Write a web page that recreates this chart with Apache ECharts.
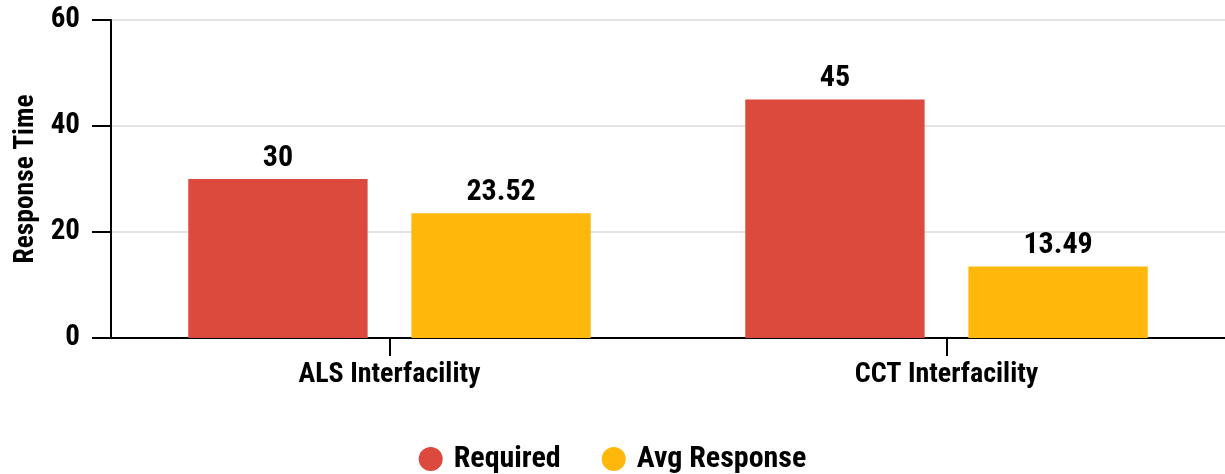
<!DOCTYPE html>
<html>
<head>
<meta charset="utf-8">
<script src="https://cdn.jsdelivr.net/npm/echarts@6/dist/echarts.min.js"></script>
<style>
html,body{margin:0;padding:0;background:#fff;}
#chart{width:1225px;height:474px;}
</style>
</head>
<body>
<div id="chart"></div>
<script>
const categories = ['ALS Interfacility', 'CCT Interfacility'];
const seriesNames = ['Required', 'Avg Response'];
const requiredValues = [30, 45];
const avgResponseValues = [23.52, 13.49];
const yTicks = [0, 20, 40, 60];

const FONT = '"Roboto Condensed", "Liberation Sans Narrow", "Arial Narrow", Roboto, sans-serif';
const colors = ['#DB4A3D', '#FDB80B'];

const chart = echarts.init(document.getElementById('chart'));
const labelStyle = {
  show: true, position: 'top', distance: 6,
  fontFamily: FONT, fontWeight: 'bold', fontSize: 30, color: '#000',
  formatter: p => String(p.value)
};
chart.setOption({
  animation: false,
  textStyle: { fontFamily: FONT },
  grid: { left: 111, right: -8, top: 20, bottom: 136, containLabel: false },
  legend: {
    bottom: -5, left: 'center',
    icon: 'circle', itemWidth: 24, itemHeight: 24, itemGap: 41,
    textStyle: { fontFamily: FONT, fontWeight: 'bold', fontSize: 30, color: '#000', padding: [0, 0, 0, 6] },
    data: seriesNames
  },
  xAxis: {
    type: 'category', data: categories,
    axisLine: { lineStyle: { color: '#000', width: 2 } },
    axisTick: { show: true, alignWithLabel: true, length: 18, lineStyle: { color: '#000', width: 2 } },
    axisLabel: { margin: 23, fontFamily: FONT, fontWeight: 'bold', fontSize: 28, color: '#000' }
  },
  yAxis: {
    type: 'value', min: yTicks[0], max: yTicks[yTicks.length - 1], interval: yTicks[1] - yTicks[0],
    name: 'Response Time', nameLocation: 'middle', nameGap: 71, nameRotate: 90,
    nameTextStyle: { fontFamily: FONT, fontWeight: 'bold', fontSize: 27.5, color: '#000' },
    axisLine: { show: true, lineStyle: { color: '#000', width: 2 } },
    axisTick: { show: true, length: 19, lineStyle: { color: '#000', width: 2 } },
    axisLabel: { margin: 31, fontFamily: FONT, fontWeight: 'bold', fontSize: 29, color: '#000' },
    splitLine: { show: true, lineStyle: { color: '#E4E4E4', width: 2 } }
  },
  series: [
    { name: seriesNames[0], type: 'bar', data: requiredValues, itemStyle: { color: colors[0] },
      barWidth: '32.2%', barGap: '24.4%', label: labelStyle },
    { name: seriesNames[1], type: 'bar', data: avgResponseValues, itemStyle: { color: colors[1] },
      barWidth: '32.2%', barGap: '24.4%', label: labelStyle }
  ]
});
</script>
</body>
</html>
